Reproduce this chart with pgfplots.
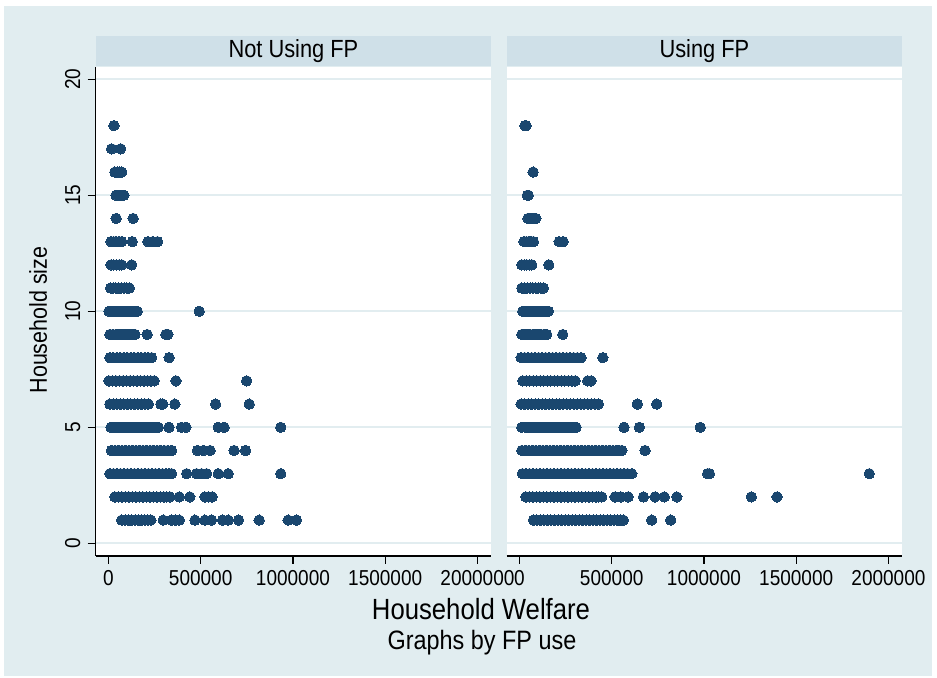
\documentclass[border=0pt]{standalone}
\usepackage{fontspec}
\setmainfont{Liberation Sans}[FakeStretch=0.88]
\usepackage{pgfplots}
\pgfplotsset{compat=1.18}
\definecolor{bgcol}{RGB}{225,237,240}
\definecolor{stripcol}{RGB}{207,224,232}
\definecolor{gridcol}{RGB}{226,237,240}
\definecolor{navy}{RGB}{26,71,111}
\pgfplotsset{
  panel/.style={
    scale only axis, width=197.7pt, height=244.65pt,
    anchor=south west,
    xmin=-69000, xmax=2074000, ymin=-0.547, ymax=20.54,
    xtick={0,500000,1000000,1500000,2000000},
    xticklabels={0,500000,1000000,1500000,2000000},
    ytick={0,5,10,15,20},
    scaled x ticks=false, scaled y ticks=false,
    axis background/.style={fill=white},
    axis x line*=bottom, axis y line*=left,
    tick align=outside, major tick length=4pt,
    every tick/.style={black, line width=0.6pt},
    axis line style={black, line width=0.6pt, -},
    ymajorgrids, major grid style={gridcol, line width=0.85pt},
    xticklabel style={font=\fontsize{10.8}{12}\selectfont, inner sep=0pt},
    xticklabel shift=3.2pt,
    every axis title shift=0pt,
    title style={at={(0.5,1)}, anchor=south, fill=stripcol, minimum width=197.7pt,
      minimum height=15pt, inner sep=0pt, font=\fontsize{12.4}{14}\selectfont},
  },
  pts/.style={only marks, mark=*, mark size=2.6pt, mark options={fill=navy, draw=navy, line width=0pt}},
}
\begin{document}
\begin{tikzpicture}
\useasboundingbox (0,0) rectangle (468.5pt,339pt);
\fill[bgcol] (2pt,1pt) rectangle (465.85pt,336pt);
% Left panel
\begin{axis}[panel, at={(47.85pt,61pt)}, title={Not Using FP},
  yticklabels={0,5,10,15,20},
  yticklabel style={rotate=90, anchor=south, inner sep=0pt, font=\fontsize{10.8}{12}\selectfont},
  yticklabel shift=3.5pt]
\addplot[pts] coordinates {
(30000,18)
(17000,17)(66000,17)
(35000,16)(48000,16)(60000,16)(72000,16)
(41000,15)(55000,15)(70000,15)(84000,15)
(42000,14)(134000,14)
(14000,13)(28000,13)(42000,13)(57000,13)(72000,13)(129000,13)(214000,13)(240000,13)(266000,13)
(14000,12)(28000,12)(43000,12)(58000,12)(72000,12)(126000,12)
(12000,11)(26000,11)(40000,11)(55000,11)(70000,11)(85000,11)(100000,11)(113000,11)
(3000,10)(18000,10)(33000,10)(48000,10)(63000,10)(78000,10)(93000,10)(108000,10)(123000,10)(138000,10)(156000,10)(492000,10)
(8000,9)(24000,9)(40000,9)(56000,9)(72000,9)(88000,9)(104000,9)(120000,9)(134000,9)(144000,9)(210000,9)(311000,9)(322000,9)
(8000,8)(26000,8)(45000,8)(64000,8)(83000,8)(102000,8)(121000,8)(140000,8)(159000,8)(178000,8)(197000,8)(216000,8)(234000,8)(329000,8)
(3000,7)(22000,7)(41000,7)(60000,7)(79000,7)(98000,7)(117000,7)(136000,7)(155000,7)(174000,7)(193000,7)(212000,7)(230000,7)(248000,7)(366000,7)(749000,7)
(8000,6)(27000,6)(46000,6)(65000,6)(84000,6)(103000,6)(122000,6)(141000,6)(160000,6)(179000,6)(198000,6)(216000,6)(284000,6)(295000,6)(360000,6)(581000,6)(763000,6)
(14000,5)(33000,5)(52000,5)(71000,5)(90000,5)(109000,5)(128000,5)(147000,5)(166000,5)(185000,5)(204000,5)(223000,5)(242000,5)(256000,5)(270000,5)(328000,5)(396000,5)(420000,5)(595000,5)(627000,5)(934000,5)
(17000,4)(36000,4)(55000,4)(74000,4)(93000,4)(112000,4)(131000,4)(150000,4)(169000,4)(188000,4)(207000,4)(226000,4)(245000,4)(264000,4)(283000,4)(302000,4)(322000,4)(342000,4)(483000,4)(515000,4)(551000,4)(681000,4)(743000,4)
(8000,3)(27000,3)(46000,3)(65000,3)(84000,3)(103000,3)(122000,3)(141000,3)(160000,3)(179000,3)(198000,3)(217000,3)(236000,3)(255000,3)(274000,3)(293000,3)(312000,3)(327000,3)(342000,3)(424000,3)(478000,3)(505000,3)(532000,3)(595000,3)(649000,3)(934000,3)
(35000,2)(54000,2)(73000,2)(92000,2)(111000,2)(130000,2)(149000,2)(168000,2)(187000,2)(206000,2)(225000,2)(244000,2)(263000,2)(282000,2)(300000,2)(316000,2)(333000,2)(384000,2)(441000,2)(523000,2)(542000,2)(562000,2)
(72000,1)(90000,1)(108000,1)(126000,1)(144000,1)(162000,1)(180000,1)(198000,1)(214000,1)(230000,1)(297000,1)(342000,1)(363000,1)(384000,1)(469000,1)(523000,1)(559000,1)(619000,1)(649000,1)(705000,1)(817000,1)(974000,1)(1019000,1)
};
\end{axis}
% Right panel
\begin{axis}[panel, at={(253.35pt,61pt)}, title={Using FP},
  yticklabels={}, y axis line style={draw=none}, ytick style={draw=none}]
\addplot[pts] coordinates {
(30000,18)(36000,18)
(74000,16)
(43000,15)(48000,15)
(46000,14)(60000,14)(75000,14)(89000,14)
(25000,13)(38000,13)(51000,13)(64000,13)(76000,13)(215000,13)(237000,13)
(13000,12)(27000,12)(40000,12)(54000,12)(67000,12)(159000,12)
(13000,11)(28000,11)(43000,11)(58000,11)(73000,11)(88000,11)(102000,11)(116000,11)(130000,11)
(18000,10)(33000,10)(48000,10)(63000,10)(78000,10)(93000,10)(108000,10)(123000,10)(138000,10)(157000,10)
(13000,9)(28000,9)(43000,9)(58000,9)(73000,9)(88000,9)(103000,9)(118000,9)(133000,9)(148000,9)(235000,9)
(9000,8)(28000,8)(47000,8)(66000,8)(85000,8)(104000,8)(123000,8)(142000,8)(161000,8)(180000,8)(199000,8)(218000,8)(237000,8)(256000,8)(275000,8)(294000,8)(314000,8)(334000,8)(452000,8)
(18000,7)(37000,7)(56000,7)(75000,7)(94000,7)(113000,7)(132000,7)(151000,7)(170000,7)(189000,7)(208000,7)(227000,7)(246000,7)(265000,7)(284000,7)(302000,7)(370000,7)(388000,7)
(9000,6)(28000,6)(47000,6)(66000,6)(85000,6)(104000,6)(123000,6)(142000,6)(161000,6)(180000,6)(199000,6)(218000,6)(237000,6)(256000,6)(275000,6)(294000,6)(313000,6)(332000,6)(351000,6)(370000,6)(389000,6)(408000,6)(428000,6)(639000,6)(744000,6)
(13000,5)(32000,5)(51000,5)(70000,5)(89000,5)(108000,5)(127000,5)(146000,5)(165000,5)(184000,5)(203000,5)(222000,5)(241000,5)(260000,5)(279000,5)(293000,5)(307000,5)(567000,5)(650000,5)(980000,5)
(13000,4)(32000,4)(51000,4)(70000,4)(89000,4)(108000,4)(127000,4)(146000,4)(165000,4)(184000,4)(203000,4)(222000,4)(241000,4)(260000,4)(279000,4)(298000,4)(317000,4)(336000,4)(355000,4)(374000,4)(393000,4)(412000,4)(431000,4)(450000,4)(469000,4)(488000,4)(507000,4)(526000,4)(540000,4)(555000,4)(681000,4)
(16000,3)(35000,3)(54000,3)(73000,3)(92000,3)(111000,3)(130000,3)(149000,3)(168000,3)(187000,3)(206000,3)(225000,3)(244000,3)(263000,3)(282000,3)(301000,3)(320000,3)(339000,3)(358000,3)(377000,3)(396000,3)(415000,3)(434000,3)(453000,3)(472000,3)(491000,3)(510000,3)(529000,3)(548000,3)(567000,3)(586000,3)(609000,3)(1020000,3)(1030000,3)(1896000,3)
(35000,2)(54000,2)(73000,2)(92000,2)(111000,2)(130000,2)(149000,2)(168000,2)(187000,2)(206000,2)(225000,2)(244000,2)(263000,2)(282000,2)(301000,2)(320000,2)(339000,2)(358000,2)(377000,2)(396000,2)(415000,2)(430000,2)(446000,2)(518000,2)(550000,2)(589000,2)(672000,2)(735000,2)(785000,2)(853000,2)(1257000,2)(1396000,2)
(76000,1)(95000,1)(114000,1)(133000,1)(152000,1)(171000,1)(190000,1)(209000,1)(228000,1)(247000,1)(266000,1)(285000,1)(304000,1)(323000,1)(342000,1)(361000,1)(380000,1)(399000,1)(418000,1)(437000,1)(456000,1)(475000,1)(494000,1)(513000,1)(532000,1)(548000,1)(563000,1)(717000,1)(820000,1)
};
\end{axis}
\node[anchor=base, font=\fontsize{14.6}{16}\selectfont] at (240.5pt,29pt) {Household Welfare};
\node[anchor=base, font=\fontsize{13.3}{15}\selectfont] at (241pt,14pt) {Graphs by FP use};
\node[anchor=base, rotate=90, font=\fontsize{12.2}{14}\selectfont] at (23.5pt,179pt) {Household size};
\end{tikzpicture}
\end{document}
